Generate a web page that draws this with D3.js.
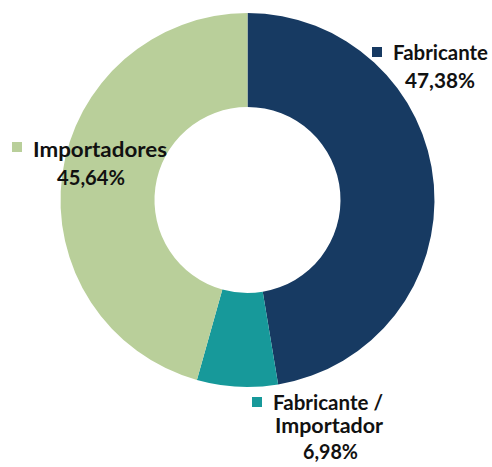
<!DOCTYPE html>
<html>
<head>
<meta charset="utf-8">
<script src="https://cdn.jsdelivr.net/npm/d3@7"></script>
<style>
  body { margin: 0; background: #fff; }
  text { font-family: Lato, "Open Sans", sans-serif; font-weight: bold; fill: #111; }
</style>
</head>
<body>
<div id="chart"></div>
<script>
// Data
const categories = ["Fabricante", "Fabricante / Importador", "Importadores"];
const shares = [47.38, 6.98, 45.64];
const shareLabels = ["47,38%", "6,98%", "45,64%"];
const colors = ["#173a62", "#17999a", "#b9cf9a"];

const width = 492;
const height = 467;
const cx = 247.5, cy = 200;
const outerR = 187, innerR = 93;

const svg = d3.select("#chart")
    .append("svg")
    .attr("width", width)
    .attr("height", height);

const g = svg.append("g")
    .attr("transform", `translate(${cx},${cy})`);

// Pie layout, clockwise from 12 o'clock, keep data order
const pie = d3.pie()
    .sort(null)
    .value(d => d);

const arc = d3.arc()
    .innerRadius(innerR)
    .outerRadius(outerR);

g.selectAll("path")
    .data(pie(shares))
    .join("path")
    .attr("d", arc)
    .attr("fill", (d, i) => colors[i]);

// Labels (legend key + name + value), placed by hand like the original
// w = width of the text in the original picture
const labels = [
    { i: 0, key: [372, 47], lines: [{ t: categories[0], x: 393, y: 60, a: "start", w: 95 }, { t: shareLabels[0], x: 405, y: 88, a: "start", w: 70 }] },
    { i: 1, key: [252, 397], lines: [{ t: "Fabricante /", x: 273, y: 410, a: "start", w: 110 }, { t: "Importador", x: 275, y: 433, a: "start", w: 108 }, { t: shareLabels[1], x: 303, y: 459, a: "start", w: 55 }] },
    { i: 2, key: [12, 142], lines: [{ t: categories[2], x: 33, y: 157, a: "start", w: 134 }, { t: shareLabels[2], x: 57, y: 185, a: "start", w: 68 }] }
];

const lab = svg.selectAll("g.label")
    .data(labels)
    .join("g")
    .attr("class", "label");

lab.append("rect")
    .attr("x", d => d.key[0])
    .attr("y", d => d.key[1])
    .attr("width", 10)
    .attr("height", 10)
    .attr("fill", d => colors[d.i]);

lab.selectAll("text")
    .data(d => d.lines)
    .join("text")
    .attr("x", d => d.x)
    .attr("y", d => d.y)
    .attr("text-anchor", d => d.a)
    .attr("textLength", d => d.w)
    .attr("lengthAdjust", "spacingAndGlyphs")
    .style("font-size", "20px")
    .text(d => d.t);
</script>
</body>
</html>
